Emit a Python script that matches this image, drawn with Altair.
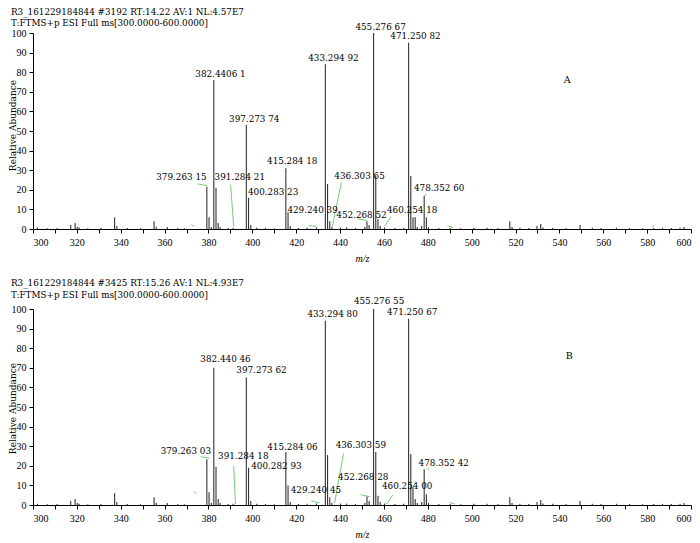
import altair as alt
import pandas as pd

FONT = "Liberation Serif"
TFONT = "DejaVu Serif"

# ---------------- Panel A ----------------
a_header = ["R3_161229184844 #3192 RT:14.22 AV:1 NL:4.57E7",
            "T:FTMS+p ESI Full ms[300.0000-600.0000]"]
a_mz = [302.0, 306.5, 311.0, 317.2, 319.2, 320.2, 321.0, 325.0, 331.0, 337.2, 338.2, 343.0,
        349.0, 355.2, 356.2, 361.2, 366.0, 369.0, 379.26, 380.26, 381.3, 382.44, 383.44,
        384.44, 385.3, 389.0, 391.28, 397.27, 398.28, 399.28, 402.0, 406.0, 410.0, 415.28,
        416.28, 417.3, 421.0, 425.0, 429.24, 433.29, 434.3, 435.3, 436.3, 440.2, 443.0,
        447.0, 451.3, 452.27, 453.27, 455.28, 456.28, 457.28, 458.3, 460.25, 465.0, 469.0,
        471.25, 472.25, 473.25, 474.25, 475.2, 477.2, 478.35, 479.35, 480.3, 485.0, 490.2,
        495.0, 501.0, 507.0, 512.0, 517.4, 518.4, 522.0, 526.0, 529.8, 531.5, 532.5, 537.0,
        543.0, 549.4, 555.0, 559.0, 566.0, 572.0, 578.0, 583.0, 587.0, 591.0, 595.0, 596.8]
a_ab = [0.8, 0.4, 0.5, 2.0, 3.0, 1.0, 0.8, 0.4, 0.5, 6.0, 1.5, 0.5,
        0.4, 4.0, 1.2, 1.0, 0.5, 0.4, 21.5, 6.0, 1.0, 76.0, 21.0,
        3.0, 1.0, 0.5, 0.6, 53.0, 16.0, 2.0, 0.6, 0.5, 0.4, 31.0,
        8.5, 1.5, 0.5, 0.6, 0.8, 84.0, 23.0, 4.0, 1.0, 0.7, 0.8,
        0.5, 1.0, 4.0, 2.0, 100.0, 27.0, 5.0, 1.5, 0.8, 0.5, 0.6,
        95.0, 27.0, 6.0, 6.0, 1.0, 1.5, 17.0, 6.0, 1.0, 0.5, 0.5,
        0.4, 0.6, 0.7, 0.5, 4.0, 1.0, 0.6, 0.5, 1.5, 2.5, 0.8, 0.6,
        0.5, 2.0, 0.6, 0.5, 0.6, 0.5, 0.4, 0.5, 0.6, 0.5, 0.6, 1.0]
a_lab_text = ["382.4406 1", "433.294 92", "455.276 67", "471.250 82", "397.273 74",
              "415.284 18", "379.263 15", "391.284 21", "400.283 23", "429.240 39",
              "436.303 65", "452.268 52", "460.254 18", "478.352 60"]
a_lab_mz = [374.0, 425.5, 447.0, 462.9, 389.4, 406.7, 356.2, 382.8, 398.0, 416.0,
            437.4, 438.3, 461.4, 473.7]
a_lab_ab = [79.2, 87.5, 103.2, 98.3, 56.1, 34.5, 26.3, 26.3, 18.7, 9.8,
            27.2, 7.3, 9.5, 20.9]
a_lead_mz1 = [375.2, 390.1, 425.7, 440.6, 448.2, 463.1, 478.3, 372.2, 488.9, 582.4]
a_lead_ab1 = [23.0, 22.6, 1.8, 23.8, 5.1, 6.1, 16.6, 2.2, 1.5, 0.8]
a_lead_mz2 = [379.3, 391.5, 429.3, 436.5, 452.3, 460.3, 479.5, 373.4, 491.5, 583.0]
a_lead_ab2 = [22.1, 1.3, 1.3, 1.3, 4.4, 1.3, 18.0, 1.3, 0.8, 2.0]
a_letter = ("A", 543.6, 76.2)

# ---------------- Panel B ----------------
b_header = ["R3_161229184844 #3425 RT:15.26 AV:1 NL:4.93E7",
            "T:FTMS+p ESI Full ms[300.0000-600.0000]"]
b_mz = [302.0, 306.5, 311.0, 317.2, 319.2, 320.2, 321.0, 325.0, 331.0, 337.2, 338.2, 343.0,
        349.0, 355.2, 356.2, 361.2, 366.0, 369.0, 379.26, 380.26, 381.3, 382.44, 383.44,
        384.44, 385.3, 389.0, 391.28, 397.27, 398.28, 399.28, 402.0, 406.0, 410.0, 415.28,
        416.28, 417.3, 421.0, 425.0, 429.24, 433.29, 434.3, 435.3, 436.3, 440.2, 443.0,
        447.0, 451.3, 452.27, 453.27, 455.28, 456.28, 457.28, 458.3, 460.25, 465.0, 469.0,
        471.25, 472.25, 473.25, 474.25, 475.2, 477.2, 478.35, 479.35, 480.3, 485.0, 490.2,
        495.0, 501.0, 507.0, 512.0, 517.4, 518.4, 522.0, 526.0, 529.8, 531.5, 532.5, 537.0,
        543.0, 549.4, 555.0, 559.0, 566.0, 572.0, 578.0, 583.0, 587.0, 591.0, 595.0, 596.8]
b_ab = [0.6, 0.4, 0.5, 2.0, 3.0, 1.0, 0.7, 0.4, 0.5, 6.0, 1.5, 0.5,
        0.4, 4.0, 1.2, 1.0, 0.5, 0.4, 23.4, 6.5, 1.0, 70.0, 19.5,
        3.0, 1.0, 0.5, 0.6, 65.0, 19.0, 2.0, 0.6, 0.5, 0.4, 27.0,
        10.0, 1.5, 0.5, 0.6, 0.8, 94.0, 25.5, 4.0, 1.0, 0.7, 0.8,
        0.5, 1.0, 4.5, 2.0, 100.0, 27.0, 4.7, 1.5, 0.8, 0.5, 0.6,
        95.0, 26.0, 9.0, 3.0, 1.0, 1.5, 18.3, 5.5, 1.0, 0.5, 0.5,
        0.4, 0.6, 0.7, 0.5, 4.0, 1.0, 0.6, 0.5, 1.5, 2.5, 0.8, 0.6,
        0.5, 2.0, 0.6, 0.5, 0.6, 0.5, 0.4, 0.5, 0.6, 0.5, 0.6, 1.0]
b_lab_text = ["433.294 80", "455.276 55", "471.250 67", "382.440 46", "397.273 62",
              "415.284 06", "379.263 03", "391.284 18", "400.282 93", "429.240 45",
              "436.303 59", "452.268 28", "460.254 00", "478.352 42"]
b_lab_mz = [425.1, 446.3, 461.4, 376.3, 392.7, 406.8, 358.2, 384.4, 399.5, 417.5,
            438.0, 439.1, 459.1, 475.8]
b_lab_ab = [97.4, 103.9, 98.3, 74.3, 68.8, 29.5, 27.7, 24.8, 20.0, 7.6,
            30.6, 14.4, 9.5, 21.4]
b_lead_mz1 = [376.4, 391.5, 426.9, 441.6, 449.4, 464.2, 479.8, 373.4, 490.0]
b_lead_ab1 = [24.6, 20.0, 2.1, 26.3, 5.2, 5.2, 17.8, 6.7, 1.3]
b_lead_mz2 = [380.5, 392.3, 430.7, 437.5, 453.8, 461.1, 480.4, 374.5, 492.2]
b_lead_ab2 = [23.9, 0.5, 1.1, 1.0, 4.2, 0.5, 18.7, 5.9, 0.5]
b_letter = ("B", 544.5, 76.0)

X_TICKS = list(range(300, 601, 10))
Y_TICKS = list(range(0, 101, 10))

XS = alt.Scale(domain=[300, 600], nice=False, zero=False)
YS = alt.Scale(domain=[0, 100], nice=False, zero=False)
X_AXIS = alt.Axis(values=X_TICKS, title="m/z", titleFontStyle="italic",
                  labelExpr="datum.value % 20 == 0 ? datum.label : ''",
                  tickSize=4, labelPadding=4, titlePadding=6, grid=False)


def y_axis(title_y):
    return alt.Axis(values=Y_TICKS, title="Relative Abundance",
                    tickSize=4, labelPadding=3, titleX=-16, titleY=title_y,
                    titleAngle=270, titleBaseline="bottom", titleAlign="center",
                    titleFont=TFONT, titleFontSize=9, grid=False)


def panel(header, mz, ab, lt, lx, ly, l1x, l1y, l2x, l2y, letter, title_y, offset, lh):
    YA = y_axis(title_y)
    peaks = pd.DataFrame({"mz": mz, "ab": ab, "base": [0] * len(mz)})
    sticks = alt.Chart(peaks).mark_rule(color="#333333", strokeWidth=1.1).encode(
        x=alt.X("mz:Q", scale=XS, axis=X_AXIS),
        y=alt.Y("ab:Q", scale=YS, axis=YA),
        y2="base:Q",
    )
    labs = pd.DataFrame({"t": lt, "x": lx, "y": ly})
    texts = alt.Chart(labs).mark_text(align="left", baseline="middle", font=TFONT,
                                      fontSize=8.8, color="black").encode(
        x=alt.X("x:Q", scale=XS, axis=X_AXIS),
        y=alt.Y("y:Q", scale=YS, axis=YA),
        text="t:N",
    )
    lead = pd.DataFrame({"x1": l1x, "y1": l1y, "x2": l2x, "y2": l2y})
    leaders = alt.Chart(lead).mark_rule(color="#77cc77", strokeWidth=1).encode(
        x=alt.X("x1:Q", scale=XS, axis=X_AXIS),
        y=alt.Y("y1:Q", scale=YS, axis=YA),
        x2="x2:Q",
        y2="y2:Q",
    )
    let = pd.DataFrame({"t": [letter[0]], "x": [letter[1]], "y": [letter[2]]})
    letter_mark = alt.Chart(let).mark_text(font=TFONT, fontSize=9.5, color="black").encode(
        x=alt.X("x:Q", scale=XS, axis=X_AXIS),
        y=alt.Y("y:Q", scale=YS, axis=YA),
        text="t:N",
    )
    return alt.layer(sticks, leaders, texts, letter_mark).properties(
        width=658, height=196,
        title=alt.TitleParams(text=header, anchor="start", frame="group", dx=-22,
                              offset=offset, fontSize=8.8, font=TFONT,
                              fontWeight="normal", lineHeight=lh, color="black"),
    )


pa = panel(a_header, a_mz, a_ab, a_lab_text, a_lab_mz, a_lab_ab,
           a_lead_mz1, a_lead_ab1, a_lead_mz2, a_lead_ab2, a_letter, 92, -5.5, 11)
pb = panel(b_header, b_mz, b_ab, b_lab_text, b_lab_mz, b_lab_ab,
           b_lead_mz1, b_lead_ab1, b_lead_mz2, b_lead_ab2, b_letter, 99, -2, 12)

chart = alt.vconcat(pa, pb, spacing=15, padding=0, background="white").configure_view(
    stroke=None
).configure_axis(
    grid=False, domainColor="black", tickColor="black", labelColor="black",
    titleColor="black", labelFont=FONT, titleFont=FONT, labelFontSize=10,
    titleFontSize=10, titleFontWeight="normal", domainWidth=1, tickWidth=1,
)

chart.save("out.html", embed_options={"renderer": "svg", "actions": False})
